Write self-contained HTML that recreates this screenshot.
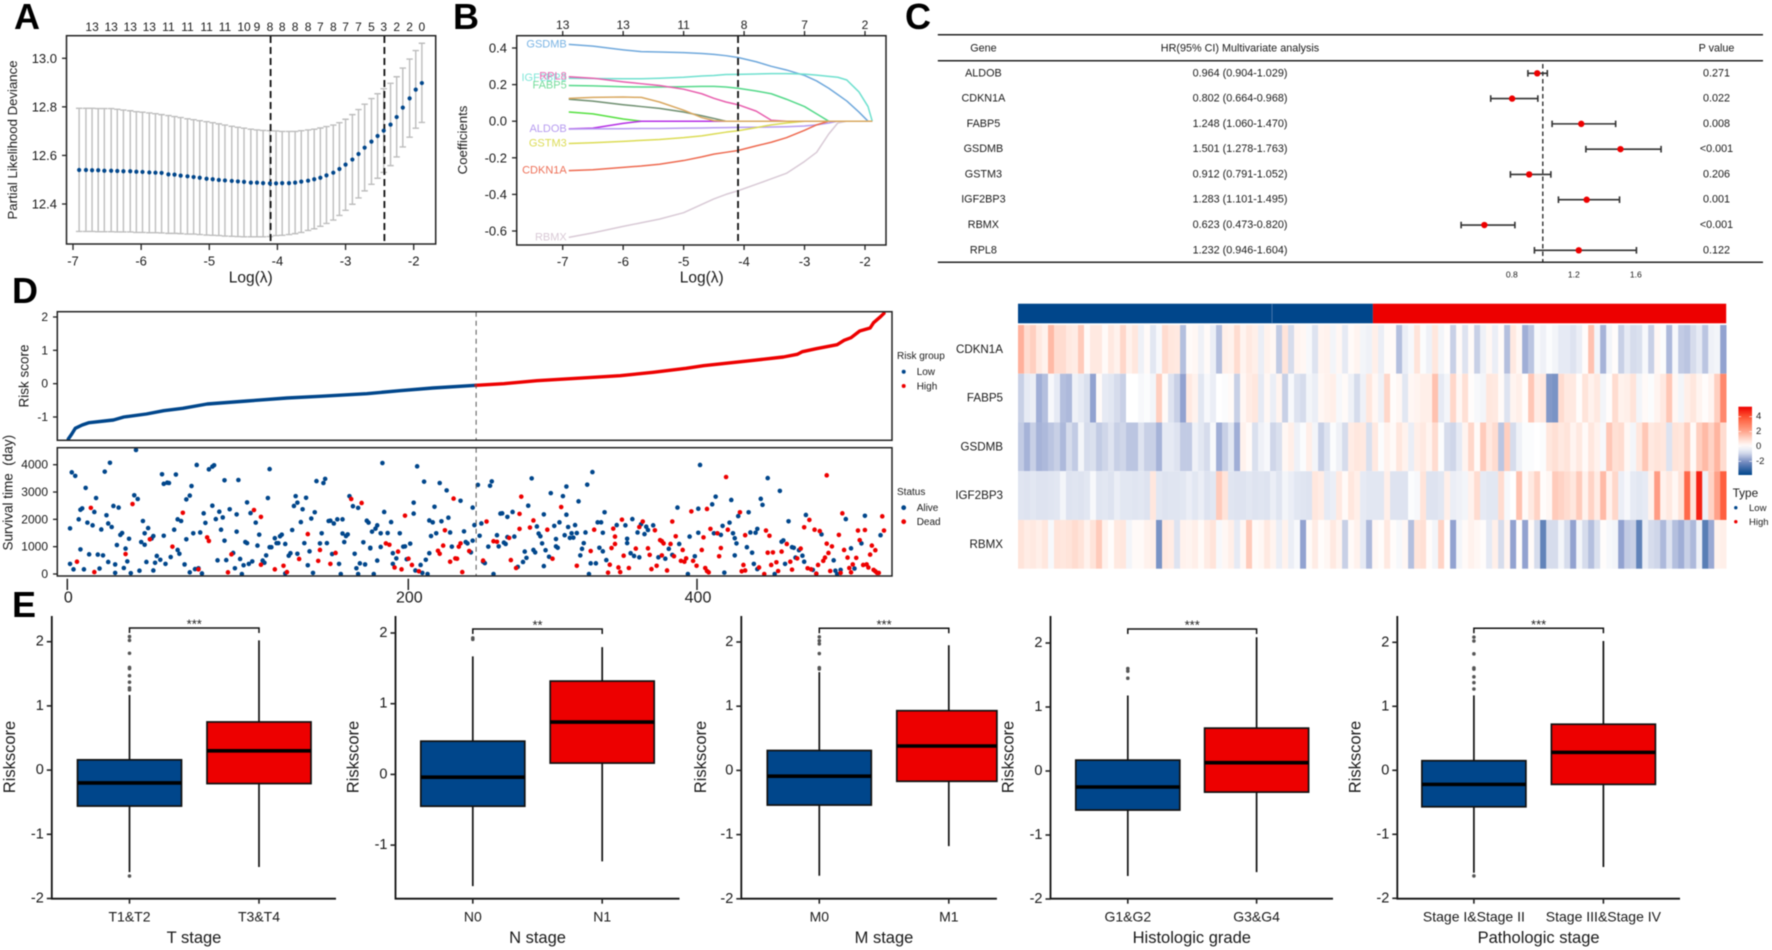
<!DOCTYPE html>
<html lang="en">
<head>
<meta charset="utf-8">
<title>Prognostic risk model figure</title>
<style>
html,body{margin:0;padding:0;background:#fff;width:1772px;height:950px;overflow:hidden}
svg{display:block;filter:blur(0.5px)}
text{font-family:"Liberation Sans",sans-serif;fill:#1a1a1a}
.letter{font-size:36px;font-weight:bold;fill:#000}
.c{text-anchor:middle;dominant-baseline:central}
</style>
</head>
<body>
<svg id="figure" xmlns="http://www.w3.org/2000/svg" width="1772" height="950" viewBox="0 0 1772 950">
<rect width="1772" height="950" fill="#fff"/>
<g id="panelA">
  <text class="letter" x="14" y="29">A</text>
  <text class="c" transform="translate(12.7 140) rotate(-90)" font-size="13.2">Partial Likelihood Deviance</text>
  <text class="c" x="250.7" y="278" font-size="15.5">Log(λ)</text>
</g>
<g id="panelB">
  <text class="letter" x="453" y="29">B</text>
  <text class="c" transform="translate(462.7 140) rotate(-90)" font-size="13.2">Coefficients</text>
  <text class="c" x="701.7" y="278" font-size="15.5">Log(λ)</text>
</g>
<g id="panelC">
  <text class="letter" x="905" y="29">C</text>
  <text class="c" x="983.4" y="48.3" font-size="10.8">Gene</text>
  <text class="c" x="1240" y="48.3" font-size="10.8">HR(95% CI) Multivariate analysis</text>
  <text class="c" x="1716.5" y="48.3" font-size="10.8">P value</text>
</g>
<g id="panelD">
  <text class="letter" x="12" y="303">D</text>
  <text class="c" transform="translate(24 376) rotate(-90)" font-size="13.5">Risk score</text>
  <text class="c" transform="translate(8 492.7) rotate(-90)" font-size="13.5" xml:space="preserve">Survival time  (day)</text>
  <text x="897" y="359" font-size="10">Risk group</text>
  <text x="916.7" y="375" font-size="10">Low</text>
  <text x="916.7" y="389.5" font-size="10">High</text>
  <text x="897" y="495" font-size="10">Status</text>
  <text x="916.7" y="511" font-size="10">Alive</text>
  <text x="916.7" y="525" font-size="10">Dead</text>
  <circle cx="903.7" cy="371.7" r="2" fill="#00468B"/>
  <circle cx="903.7" cy="386" r="2" fill="#ED0000"/>
  <circle cx="903.7" cy="507.7" r="2.4" fill="#00468B"/>
  <circle cx="903.7" cy="521.7" r="2.4" fill="#ED0000"/>
</g>
<g id="heatmap">
  <rect x="1018" y="303.7" width="354.9" height="19.6" fill="#00468B"/>
  <rect x="1372.9" y="303.7" width="353.3" height="19.6" fill="#ED0000"/>
  <rect x="1271.7" y="303.7" width="0.7" height="19.6" fill="#5f8ab8"/>
  <text x="1732.6" y="497" font-size="11.8">Type</text>
  <circle cx="1735.8" cy="507.7" r="1.7" fill="#00468B"/>
  <circle cx="1735.8" cy="521.7" r="1.7" fill="#ED0000"/>
  <text x="1749" y="511" font-size="9.5">Low</text>
  <text x="1749" y="525" font-size="9.5">High</text>
</g>
<g id="panelE">
  <text class="letter" x="12" y="617">E</text>
</g>
</svg>
<script>
/* ---------- Panel A data ---------- */
const cvLogLambda = [-6.91,-6.81,-6.72,-6.63,-6.54,-6.44,-6.35,-6.26,-6.16,-6.07,-5.98,-5.88,-5.79,-5.70,-5.60,-5.51,-5.42,-5.32,-5.23,-5.14,-5.04,-4.95,-4.86,-4.77,-4.67,-4.58,-4.49,-4.39,-4.30,-4.21,-4.11,-4.02,-3.93,-3.83,-3.74,-3.65,-3.55,-3.46,-3.37,-3.28,-3.18,-3.09,-3.00,-2.90,-2.81,-2.72,-2.62,-2.53,-2.44,-2.34,-2.25,-2.16,-2.06,-1.97,-1.88];
const cvMean = [12.540,12.540,12.539,12.539,12.537,12.537,12.536,12.535,12.535,12.533,12.532,12.530,12.529,12.528,12.522,12.521,12.517,12.514,12.511,12.508,12.504,12.502,12.499,12.497,12.495,12.493,12.491,12.488,12.488,12.486,12.485,12.485,12.486,12.486,12.488,12.492,12.496,12.502,12.508,12.518,12.529,12.544,12.562,12.583,12.606,12.632,12.657,12.680,12.702,12.727,12.758,12.797,12.835,12.871,12.898];
const cvUpper = [12.794,12.794,12.794,12.793,12.793,12.793,12.790,12.787,12.784,12.780,12.778,12.775,12.772,12.768,12.764,12.760,12.756,12.751,12.747,12.743,12.739,12.735,12.730,12.725,12.720,12.716,12.712,12.708,12.705,12.703,12.702,12.701,12.699,12.699,12.699,12.702,12.705,12.708,12.713,12.719,12.725,12.735,12.749,12.768,12.789,12.811,12.834,12.854,12.875,12.897,12.924,12.960,12.997,13.032,13.062];
const cvLower = [12.287,12.287,12.287,12.286,12.286,12.286,12.285,12.285,12.285,12.283,12.283,12.282,12.282,12.281,12.279,12.279,12.278,12.276,12.276,12.274,12.272,12.271,12.270,12.268,12.267,12.266,12.265,12.265,12.265,12.265,12.266,12.270,12.271,12.274,12.278,12.283,12.291,12.298,12.308,12.320,12.334,12.353,12.374,12.399,12.425,12.454,12.481,12.506,12.530,12.558,12.594,12.635,12.675,12.712,12.736];
const cvTopCounts = [13,13,13,13,11,11,11,11,10,9,8,8,8,8,7,8,7,7,5,3,2,2,0];
const cvTopCountAt = [-6.72,-6.44,-6.16,-5.88,-5.60,-5.32,-5.04,-4.77,-4.49,-4.30,-4.11,-3.93,-3.74,-3.55,-3.37,-3.18,-3.00,-2.81,-2.62,-2.44,-2.25,-2.06,-1.88];
const cvYTicks = [12.4,12.6,12.8,13.0];
const cvXTicks = [-7,-6,-5,-4,-3,-2];
const cvLambdaLines = [-4.1,-2.43];

/* ---------- Panel B data ---------- */
const pathLambda = [-6.9,-6.5,-6,-5.7,-5.4,-5,-4.7,-4.5,-4.3,-4.1,-3.8,-3.55,-3.3,-3,-2.8,-2.6,-2.45,-2.3,-2.1,-1.95,-1.88];
const coefGSDMB = [.42,.41,.39,.38,.378,.375,.37,.365,.358,.348,.325,.30,.28,.25,.22,.18,.145,.11,.05,0,0];
const coefIGF2BP3 = [.235,.233,.232,.232,.235,.24,.247,.25,.255,.256,.258,.26,.26,.257,.252,.245,.24,.225,.16,.08,0];
const coefRPL8 = [.243,.235,.215,.205,.195,.175,.15,.125,.105,.09,.055,.005,0,0,0,0,0,0,0,0,0];
const coefFABP5 = [.195,.193,.188,.187,.187,.188,.19,.19,.187,.18,.165,.15,.12,.08,.04,0,0,0,0,0,0];
const coefUnnamedOlive = [.12,.11,.09,.08,.07,.05,.03,.015,0,0,0,0,0,0,0,0,0,0,0,0,0];
const coefUnnamedGreen = [.05,.04,.012,0,0,0,0,0,0,0,0,0,0,0,0,0,0,0,0,0,0];
const coefUnnamedPurple = [-.042,-.038,-.012,0,0,0,0,0,0,0,0,0,0,0,0,0,0,0,0,0,0];
const coefALDOB = [-.043,-.042,-.041,-.04,-.04,-.038,-.037,-.036,-.035,-.034,-.033,-.032,-.03,-.026,-.02,-.01,0,0,0,0,0];
const coefGSTM3 = [-.122,-.118,-.11,-.105,-.10,-.09,-.08,-.07,-.06,-.052,-.035,-.02,-.01,0,0,0,0,0,0,0,0];
const coefCDKN1A = [-.27,-.265,-.252,-.245,-.235,-.215,-.195,-.18,-.17,-.16,-.135,-.115,-.09,-.05,-.02,0,0,0,0,0,0];
const coefRBMX = [-.635,-.61,-.575,-.555,-.535,-.50,-.455,-.425,-.40,-.38,-.345,-.315,-.285,-.22,-.17,-.07,-.01,0,0,0,0];
const coefUnnamedTan = [.125,.13,.132,.13,.105,.06,.02,.003,0,0,0,0,0,0,0,0,0,0,0,0,0];
const pathTopCounts = [13,13,11,8,7,2];
const pathXTicks = [-7,-6,-5,-4,-3,-2];
const pathYTicks = [0.4,0.2,0.0,-0.2,-0.4,-0.6];

/* ---------- Panel C data ---------- */
const forestGenes = ["ALDOB","CDKN1A","FABP5","GSDMB","GSTM3","IGF2BP3","RBMX","RPL8"];
const forestHR = [0.964,0.802,1.248,1.501,0.912,1.283,0.623,1.232];
const forestLow = [0.904,0.664,1.060,1.278,0.791,1.101,0.473,0.946];
const forestHigh = [1.029,0.968,1.470,1.763,1.052,1.495,0.820,1.604];
const forestP = ["0.271","0.022","0.008","<0.001","0.206","0.001","<0.001","0.122"];
const forestTicks = [0.8,1.2,1.6];

/* ---------- Panel D data ---------- */
const lowRiskRank = [0,2,4,8,12,26,32,45,55,66,80,103,126,145,172,191,210,235];
const lowRiskScore = [-1.66,-1.51,-1.34,-1.24,-1.17,-1.09,-1.0,-.91,-.81,-.74,-.61,-.52,-.43,-.38,-.30,-.21,-.13,-.05];
const highRiskRank = [235,251,270,299,318,337,356,366,395,412,420,423,431,443,447,451,456,462,464,468,470];
const highRiskScore = [-.05,0,.09,.18,.24,.34,.46,.54,.70,.80,.88,.96,1.05,1.17,1.30,1.38,1.58,1.67,1.83,2.01,2.11];
const riskYTicks = [2,1,0,-1];
const survivalYTicks = [0,1000,2000,3000,4000];
const rankTicks = [0,200,400];
const aliveRank = [1,1,2,3,4,6,7,7,8,9,10,11,12,14,15,16,17,18,19,20,21,22,23,23,24,25,26,27,27,28,29,30,31,32,33,34,35,36,38,39,40,41,42,43,44,44,45,46,48,49,49,50,51,53,54,55,55,56,57,58,59,61,62,63,63,64,65,67,68,68,70,70,71,72,73,74,75,76,77,78,79,81,83,83,84,85,86,87,88,89,90,90,91,93,95,96,97,97,98,99,100,101,102,103,103,104,105,106,108,109,110,112,113,114,115,116,116,117,119,120,121,122,123,125,125,127,128,129,130,131,132,132,134,135,136,137,138,139,140,141,142,143,145,146,147,148,149,150,151,152,153,155,156,157,158,158,159,160,161,162,164,165,166,167,167,168,170,171,172,173,174,174,175,176,177,178,178,180,180,181,182,184,186,187,187,189,191,193,194,195,197,199,199,200,201,203,204,205,206,207,208,208,209,210,211,212,214,215,218,219,220,221,226,228,229,230,232,233,233,234,236,237,238,239,240,242,243,244,245,247,248,249,250,251,252,253,253,256,257,259,262,263,264,265,267,268,269,270,271,272,273,274,274,275,277,278,280,281,281,282,283,285,286,287,287,288,289,290,291,292,293,294,295,296,297,298,299,300,301,302,304,305,306,307,308,308,309,310,316,321,322,322,324,325,326,328,329,330,332,333,334,337,340,344,346,348,351,352,357,358,361,363,363,364,371,372,373,376,377,378,381,382,383,384,384,385,386,391,392,393,394,395,396,397,397,399,400,403,407,410,411,412,413,415,417,418,419,421,423,424,425,429,431,434,441,442,443,445,448,451,453,457,459,468];
const aliveDays = [1670,370,3720,170,3590,2000,900,2350,2400,170,3150,1880,720,1780,2270,2780,710,200,1630,680,3745,2150,1850,440,4070,1720,2490,350,40,1060,2430,1430,1500,220,930,460,1290,30,2880,4540,2745,120,1170,1940,1070,1490,440,1680,1300,1390,130,410,660,520,3650,3300,1400,370,3340,3330,620,1620,3640,880,2000,740,1940,350,1270,2730,60,2870,3220,1490,180,3990,210,1520,20,2220,1870,3830,2500,3930,3980,2010,500,2280,1620,2070,3430,1220,510,2370,770,210,1550,2180,3440,550,0,320,1170,1130,2620,370,2230,460,1880,1040,1440,490,410,680,2780,980,3840,980,1310,1130,1130,1380,1440,20,1100,670,760,1610,2490,2850,740,2610,1900,2370,1130,2790,320,830,2030,40,2260,3400,1120,1490,3330,3480,1130,1940,1950,730,1850,2000,370,0,2000,1480,1170,1390,1450,2850,2480,740,210,2420,0,390,1160,350,1950,1880,960,940,1550,0,1660,1780,490,1490,990,4060,2270,1500,1900,760,370,570,1490,1000,1010,540,1110,2210,2610,130,3940,330,40,3380,520,0,760,1960,1390,1890,2460,1490,3330,1930,3060,2060,1520,1000,2680,1560,1170,1120,790,1220,2430,1790,3260,1400,1850,450,400,1000,3230,3390,0,1420,1010,2210,2220,1150,1100,1350,2090,2270,1370,260,440,820,590,2500,3500,880,790,1740,1480,1380,1120,2180,290,870,630,2960,1760,1280,1010,960,1890,2850,1420,2170,3200,1720,1320,1490,1330,1790,1500,2660,680,920,1130,1520,3270,0,390,3730,390,1890,960,1890,830,1510,2260,510,1790,1780,1130,1290,760,2010,660,1520,610,1820,1460,1730,1610,1780,610,560,920,700,2430,1100,0,1370,650,2390,1510,3990,2550,1490,2830,1430,1760,50,1880,2710,1490,1310,680,1120,2120,980,2260,1520,780,370,1510,180,1650,2750,2530,3510,0,3040,1180,1230,370,1930,980,960,600,870,670,450,2160,150,10,1450,500,120,0,150,2010,940,200,1120,2130,1420];
const deadRank = [5,13,15,33,37,47,60,66,75,80,81,92,94,107,111,111,119,124,126,133,138,144,145,151,154,163,169,183,185,188,190,192,194,196,198,202,213,214,216,217,220,222,223,224,225,226,227,231,239,241,245,247,254,255,258,260,260,261,266,268,276,279,284,293,301,303,311,312,313,314,315,315,317,318,319,320,323,327,329,331,334,335,336,338,339,341,342,342,343,345,347,348,349,350,353,354,355,356,359,360,362,365,366,367,368,368,369,370,374,375,376,379,380,387,388,389,390,390,398,401,402,403,404,405,406,408,409,411,414,416,417,420,422,424,426,427,428,430,431,432,433,435,436,437,437,438,439,440,444,445,446,447,449,450,451,452,454,455,456,458,459,460,461,462,463,464,465,465,466,467,469,470];
const deadDays = [450,2420,70,730,2560,1270,1000,2240,170,1340,1210,60,720,2340,2090,340,170,300,70,550,1460,480,880,370,770,2745,2600,1120,1070,240,820,170,2135,560,330,100,850,740,1040,1600,450,2760,570,560,1000,1120,70,840,490,1920,1200,1180,1320,510,220,1650,2200,2830,1700,1960,1620,560,2450,300,840,1620,50,340,950,1660,1100,1370,240,70,1990,670,220,930,1720,1920,940,700,180,1600,300,1240,1200,680,1120,130,1100,1920,650,1380,480,880,450,570,2290,480,300,880,1340,220,2380,110,60,1650,1490,650,950,3550,1620,2260,100,330,1420,130,240,0,1590,780,1400,330,790,430,110,820,1100,450,160,570,930,1710,210,1980,170,1620,10,330,1570,480,600,1110,3610,770,110,1010,1430,40,2220,880,600,220,60,350,590,1590,1240,330,1610,350,240,710,1040,150,870,100,40,40,2110,1590];

/* ---------- Heatmap data (z-scores, one value per column) ---------- */
const heatGenes = ["CDKN1A","FABP5","GSDMB","IGF2BP3","RBMX"];
const heatCDKN1A = [2.2,1.2,1.5,.8,.5,2,1.2,1.2,.8,.7,1.6,.2,.8,.8,.2,.8,.5,1.3,.5,.9,-.4,.2,-.7,-.2,1.2,.9,.8,-1.5,.2,.3,-.4,.2,-.5,-1.5,.6,.5,1.2,.4,.8,.6,-.5,.5,.3,-1.3,1,-1,.4,.3,-.2,-.8,.4,.5,-.3,.3,-.6,.2,.4,-.3,-.4,.6,-.5,.2,.2,-1.5,-.5,-.2,1,-.1,-.4,.9,-.3,.1,-1.2,.2,-.8,.2,-1.2,-.4,.3,-.5,.2,-1.5,.8,.3,-1.8,-1.4,-.2,-.4,-.1,-.3,-.6,-.6,-.8,-.5,.1,1.8,-.3,-1.7,-.3,.1,-1.2,-.6,-1,-.9,-.2,-1.2,.3,-.1,-1.6,-.2,-1.3,-1.4,-1,-.6,-1.4,-.4,-.3,-2];
const heatFABP5 = [-1.2,-.6,-.5,-1.8,-1.5,-.2,-.6,-1.5,-1.6,-.4,-.6,-.9,-2,.2,-.6,-.7,-1,-1.2,0,0,-.2,-.1,-.3,1.5,.2,-.8,-1.2,-2,.8,.5,-.7,-.2,-.5,0,-.1,.2,-1.2,.3,.7,.9,-.6,.3,-.5,.4,-1.2,-.2,-.8,-1,-.3,-.5,.3,.5,.6,-.2,.2,-.4,-1,-.4,.9,.3,-.4,1.3,.1,.3,-.7,.3,.4,.6,.6,1.8,-.6,-.3,1.3,.3,1.1,.1,-.2,-.3,.9,.8,.2,-.8,.4,.6,.1,1.7,.7,.9,-2.2,-2.3,1.2,.8,.8,.1,1,.5,.8,-.3,.1,1.2,.5,.6,1,-.3,.2,-.1,.4,.8,1.7,.3,-.3,.6,.9,.4,.1,.4,1.5,3];
const heatGSDMB = [-1.3,-1.7,-1.2,-1.7,-1.6,-1.4,-1.2,-1.6,-1,-1.3,-.3,-1,-.9,-1.3,-1.1,-.8,-1.2,-1.1,-1.4,-1.4,-.8,-1.2,-1.2,-1.7,-.6,-.6,-.8,-1.3,-1.3,-.4,-.7,-1,-.2,-1.8,-1.2,-.7,-1.8,.5,.2,-.9,-.4,-.2,-1.1,-.9,.3,.6,-.4,-.1,.6,-.3,-1.2,-.8,-.1,-.4,-1,.7,.9,.8,-.9,.8,-.1,.5,.2,.9,.5,-.5,.6,.8,.4,1.2,-.1,-1,-1.1,-.6,.4,1.3,.2,1.6,.8,1.2,-1.4,1.5,-1,-.4,-.1,-.1,0,-.1,.9,1.1,.8,1,.4,.8,.2,.9,.5,-.2,1.7,1.1,1.2,.3,-.3,.9,1.7,.8,1,.9,-.8,1,.9,1.5,.2,1.5,2,1.4,2.1,1.2];
const heatIGF2BP3 = [-.75,-.8,-.7,-.8,-.8,-.75,-.7,-.3,-.8,-.75,-.8,-.7,-.2,-.75,-.7,-.8,-.5,-.7,-.7,-.75,-.7,-.8,.9,-.7,-.8,-.75,-.75,-.7,-.5,-.7,-.5,-.8,-.7,1.6,1,-.75,-.8,-.8,-.7,-.8,-.75,-.8,-.5,-.75,-.3,-.5,-.7,-.75,-.8,.9,.7,-.6,-.5,.8,.2,.9,.6,-.6,-.7,-.7,-.7,.6,-.8,-.8,-.8,-.1,-.2,1,-.8,-.8,-.7,.6,-.5,-.4,-.3,.5,1.2,-.6,-.7,-.7,1.2,-.2,0,1.8,.2,.8,1.4,.1,.3,1.6,1.4,1.2,.9,1.6,.5,1.4,.7,2,.5,1.3,-.5,-.2,-.6,-.7,-.6,.5,2.6,.5,.8,.3,1,3.6,1,4.8,-.4,1.4,2.5,3.8];
const heatRBMX = [1,.7,.8,.6,.9,-.2,1,.9,1,1.2,1,.5,1,1.6,.5,.1,.8,.9,-.3,.2,.2,.5,.6,-2.3,.8,.7,-.8,.5,.4,.6,.2,.7,1,-.2,.3,.6,-.6,.3,1.6,.2,.3,.8,.4,-.5,.5,-.5,-.2,-2,.2,.7,.1,.3,.8,.4,-1.2,.2,.5,-.6,-1.6,.3,.1,.8,.1,-.2,.3,-1.5,1,1.1,.1,-.3,1.4,.1,-2,-.3,.2,.5,.3,.1,-.6,.6,-1,.4,-2,.1,-2,.2,-1,-2.6,-1,-1,-.3,-1,-2,-.3,-1,-1.5,-.9,.1,-.2,-.3,-2,-1.3,-1.2,-2.6,-.5,-1,-1.1,-1.6,-.8,-1.5,-1.8,-1.2,-1.6,-.4,-2.7,-1.9,.5,.6];
const heatLegendTicks = [4,2,0,-2];

/* ---------- Panel E data ---------- */
const stageTitles = ["T stage","N stage","M stage","Histologic grade","Pathologic stage"];
const stageCategories = [["T1&T2","T3&T4"],["N0","N1"],["M0","M1"],["G1&G2","G3&G4"],["Stage I&Stage II","Stage III&Stage IV"]];
const stageStars = ["***","**","***","***","***"];
const stageQ1 = [[-.56,-.21],[-.45,.16],[-.54,-.17],[-.61,-.33],[-.57,-.22]];
const stageMedian = [[-.2,.3],[-.04,.74],[-.09,.38],[-.25,.13],[-.22,.28]];
const stageQ3 = [[.16,.75],[.47,1.32],[.31,.93],[.17,.67],[.15,.72]];
const stageWhiskerLow = [[-1.59,-1.51],[-1.58,-1.23],[-1.64,-1.18],[-1.64,-1.58],[-1.6,-1.51]];
const stageWhiskerHigh = [[1.17,2.02],[1.67,1.8],[1.53,1.95],[1.18,2.09],[1.17,2.02]];
const stageOutliers = [[2.08,2.02,1.82,1.6,1.58,1.47,1.37,1.28,1.25,-1.65],[1.93,1.91],[2.08,2.02,1.97,1.82,1.6,1.58],[1.6,1.56,1.45],[2.08,2.02,1.82,1.6,1.58,1.46,1.37,1.27,-1.65]];
const stageYTicks = [[2,1,0,-1,-2],[2,1,0,-1],[2,1,0,-1,-2],[2,1,0,-1,-2],[2,1,0,-1,-2]];

/* ---------- Layout (not data) ---------- */
const NS = "http://www.w3.org/2000/svg";
const BLUE = "#00468B", RED = "#ED0000";
function mk(parent, tag, attrs, content) {
  const n = document.createElementNS(NS, tag);
  for (const k in attrs) n.setAttribute(k, attrs[k]);
  if (content !== undefined) n.textContent = content;
  parent.appendChild(n);
  return n;
}
function lin(d0, d1, r0, r1) { return v => r0 + (v - d0) * (r1 - r0) / (d1 - d0); }
function poly(xs, ys, fx, fy) { return xs.map((x, i) => fx(x).toFixed(2) + "," + fy(ys[i]).toFixed(2)).join(" "); }

function frame(parent, x0, y0, x1, y1, name) {
  const r = mk(parent, "rect", {x: x0, y: y0, width: x1 - x0, height: y1 - y0, fill: "none", stroke: "#222", "stroke-width": 1.5});
  
  
}
function tick(parent, x1, y1, x2, y2, w) {
  const l = mk(parent, "line", {x1, y1, x2, y2, stroke: "#222", "stroke-width": w || 1.3});
  
  
}
function label(parent, x, y, txt, size, anchor, fill) {
  const t = mk(parent, "text", {x, y, "font-size": size, "text-anchor": anchor || "middle", "dominant-baseline": "central"}, txt);
  if (fill) t.style.fill = fill;
  
  
  return t;
}

/* ---------- Panel A ---------- */
(function () {
  const g = document.getElementById("panelA");
  const x = lin(-7, -2, 73, 413.7), y = lin(12.4, 13.0, 204, 58.3);
  cvLogLambda.forEach((v, i) => {
    const bar = mk(g, "path", {d: `M${x(v)-3.2} ${y(cvUpper[i])}H${x(v)+3.2}M${x(v)} ${y(cvUpper[i])}V${y(cvLower[i])}M${x(v)-3.2} ${y(cvLower[i])}H${x(v)+3.2}`, fill: "none", stroke: "#bdbdbd", "stroke-width": 1.4});
    
    
  });
  cvLambdaLines.forEach(v => {
    const d = mk(g, "line", {x1: x(v), x2: x(v), y1: 36, y2: 244, stroke: "#111", "stroke-width": 1.8, "stroke-dasharray": "7 4"});
    
    
  });
  cvLogLambda.forEach((v, i) => {
    const c = mk(g, "circle", {cx: x(v), cy: y(cvMean[i]), r: 2.1, fill: BLUE});
    
    
  });
  frame(g, 66.5, 35.7, 435.7, 244, "plot-frame-a");
  cvXTicks.forEach(v => { tick(g, x(v), 244, x(v), 250); label(g, x(v), 261, String(v), 13); });
  cvYTicks.forEach(v => { tick(g, 62, y(v), 66.5, y(v)); label(g, 57, y(v), v.toFixed(1), 13, "end"); });
  cvTopCounts.forEach((c, i) => label(g, x(cvTopCountAt[i]), 27, String(c), 12));
})();

/* ---------- Panel B ---------- */
(function () {
  const g = document.getElementById("panelB");
  const x = lin(-7, -2, 562.7, 865), y = lin(-0.6, 0.4, 231, 48);
  const series = [
    {gene: "GSDMB", vals: coefGSDMB, col: "#6fa8dc", txt: "#7ab4e4"},
    {gene: "FABP5", vals: coefFABP5, col: "#55d98a", txt: "#74dc9a"},
    {gene: "IGF2BP3", vals: coefIGF2BP3, col: "#6fe0cf", txt: "#7fe6d8"},
    {gene: "RPL8", vals: coefRPL8, col: "#e85fae", txt: "#e86db5"},
    {gene: "", vals: coefUnnamedOlive, col: "#6f8f70"},
    {gene: "", vals: coefUnnamedGreen, col: "#55e040"},
    {gene: "", vals: coefUnnamedPurple, col: "#b52fe5"},
    {gene: "ALDOB", vals: coefALDOB, col: "#b79cf0", txt: "#b79cf0"},
    {gene: "GSTM3", vals: coefGSTM3, col: "#dcdc55", txt: "#dcdc55"},
    {gene: "CDKN1A", vals: coefCDKN1A, col: "#ee6a50", txt: "#ee7058"},
    {gene: "RBMX", vals: coefRBMX, col: "#d9cad6", txt: "#d9cad6"},
    {gene: "", vals: coefUnnamedTan, col: "#d9a860"}
  ];
  series.forEach(s => {
    const l = mk(g, "polyline", {points: poly(pathLambda, s.vals, x, y), fill: "none", stroke: s.col, "stroke-width": 1.5, "stroke-linejoin": "round"});
    
    
    if (s.gene) {
      const t = label(g, x(pathLambda[0]) - 2, y(s.vals[0]), s.gene, 11, "end", s.txt);
      
    }
  });
  const d = mk(g, "line", {x1: x(-4.1), x2: x(-4.1), y1: 36, y2: 245, stroke: "#111", "stroke-width": 1.8, "stroke-dasharray": "7 4"});
  
  
  frame(g, 516.7, 35.7, 886, 245, "plot-frame-b");
  pathXTicks.forEach((v, i) => {
    tick(g, x(v), 245, x(v), 250);
    label(g, x(v), 261.7, String(v), 13);
    tick(g, x(v), 31, x(v), 35.7);
    label(g, x(v), 25, String(pathTopCounts[i]), 12);
  });
  pathYTicks.forEach(v => { tick(g, 512, y(v), 516.7, y(v)); label(g, 507, y(v), v.toFixed(1), 13, "end"); });
})();

/* ---------- Panel C ---------- */
(function () {
  const g = document.getElementById("panelC");
  const x = lin(0.8, 1.6, 1511.8, 1635.8);
  const rowY = lin(0, 7, 73.3, 250.3);
  [34.7, 60.7, 262.3].forEach(yy => {
    const r = mk(g, "line", {x1: 937.8, x2: 1763, y1: yy, y2: yy, stroke: "#222", "stroke-width": 1.5});
    
    
  });
  const ref = mk(g, "line", {x1: x(1), x2: x(1), y1: 64, y2: 262, stroke: "#111", "stroke-width": 1.2, "stroke-dasharray": "4.5 3"});
  
  
  forestGenes.forEach((gene, i) => {
    const yy = rowY(i);
    label(g, 983.4, yy, gene, 10.8);
    label(g, 1240, yy, `${forestHR[i].toFixed(3)} (${forestLow[i].toFixed(3)}-${forestHigh[i].toFixed(3)})`, 10.8);
    label(g, 1716.5, yy, forestP[i], 10.8);
    const ci = mk(g, "path", {d: `M${x(forestLow[i])} ${yy-3.3}v6.6M${x(forestLow[i])} ${yy}H${x(forestHigh[i])}M${x(forestHigh[i])} ${yy-3.3}v6.6`, fill: "none", stroke: "#333", "stroke-width": 1.6});
    
    
    const dot = mk(g, "circle", {cx: x(forestHR[i]), cy: yy, r: 3.2, fill: RED});
    
    
  });
  forestTicks.forEach(v => label(g, x(v), 274.7, v.toFixed(1), 8.6));
})();

/* ---------- Panel D ---------- */
(function () {
  const g = document.getElementById("panelD");
  const x = lin(0, 470, 68.3, 884);
  const rankAxis = v => v <= 200 ? lin(0, 200, 67.3, 408.3)(v) : lin(200, 400, 408.3, 697)(v);
  const yRisk = lin(-1, 2, 417, 317), yDays = lin(0, 4000, 574, 464.7);
  const low = mk(g, "polyline", {points: poly(lowRiskRank, lowRiskScore, x, yRisk), fill: "none", stroke: BLUE, "stroke-width": 3.4, "stroke-linejoin": "round", "stroke-linecap": "round"});
  
  
  const high = mk(g, "polyline", {points: poly(highRiskRank, highRiskScore, x, yRisk), fill: "none", stroke: RED, "stroke-width": 3.4, "stroke-linejoin": "round", "stroke-linecap": "round"});
  
  
  aliveRank.forEach((r, i) => {
    if (i >= aliveDays.length) return;
    const c = mk(g, "circle", {cx: x(r), cy: yDays(aliveDays[i]), r: 2.3, fill: BLUE});
    
    
  });
  deadRank.forEach((r, i) => {
    if (i >= deadDays.length) return;
    const c = mk(g, "circle", {cx: x(r), cy: yDays(deadDays[i]), r: 2.3, fill: RED});
    
    
  });
  [[311.7, 440.3], [447.7, 576]].forEach(p => {
    const d = mk(g, "line", {x1: x(235), x2: x(235), y1: p[0], y2: p[1], stroke: "#555", "stroke-width": 1, "stroke-dasharray": "5 4"});
    
    
  });
  frame(g, 57.3, 311.7, 892, 440.3, "plot-frame-risk-score");
  frame(g, 57.3, 447.7, 892, 576, "plot-frame-survival");
  riskYTicks.forEach(v => { tick(g, 53, yRisk(v), 57.3, yRisk(v)); label(g, 48, yRisk(v), String(v), 12, "end"); });
  survivalYTicks.forEach(v => { tick(g, 53, yDays(v), 57.3, yDays(v)); label(g, 48, yDays(v), String(v), 12, "end"); });
  rankTicks.forEach(v => { tick(g, rankAxis(v), 578.7, rankAxis(v), 590, 1.5); label(g, rankAxis(v) + 1, 598, String(v), 16); });
})();

/* ---------- Heatmap ---------- */
(function () {
  const g = document.getElementById("heatmap");
  const stops = [[-3.8,[0,70,139]],[-2,[146,162,208]],[-1,[214,220,236]],[0,[255,255,255]],[1,[255,228,218]],[2,[255,186,166]],[4,[255,85,51]],[5.3,[238,0,0]]];
  const legendStops = [[-3.8,[0,70,139]],[-2,[124,144,196]],[-1,[205,212,232]],[0,[255,255,255]],[1,[255,217,204]],[2,[255,166,142]],[4,[255,85,51]],[5.3,[238,0,0]]];
  function colour(v, table) {
    const t0 = table || stops;
    v = Math.max(-3.8, Math.min(5.3, v));
    for (let i = 1; i < t0.length; i++) {
      if (v <= t0[i][0]) {
        const t = (v - t0[i-1][0]) / (t0[i][0] - t0[i-1][0]);
        const c = t0[i-1][1].map((a, k) => Math.round(a + (t0[i][1][k] - a) * t));
        return `rgb(${c[0]},${c[1]},${c[2]})`;
      }
    }
    return "rgb(238,0,0)";
  }
  const rowsData = [heatCDKN1A, heatFABP5, heatGSDMB, heatIGF2BP3, heatRBMX];
  const x0 = 1018, x1 = 1726.2, rowTop = lin(0, 5, 325, 568.7);
  rowsData.forEach((row, r) => {
    const w = (x1 - x0) / row.length, top = rowTop(r), h = rowTop(r + 1) - top;
    row.forEach((v, i) => {
      const c = mk(g, "rect", {x: (x0 + i * w).toFixed(2), y: top.toFixed(2), width: (w + 0.3).toFixed(2), height: h.toFixed(2), fill: colour(v)});
      
      
    });
    const t = label(g, 1003, top + h / 2, heatGenes[r], 11.6, "end");
    
  });
  const defs = mk(g, "defs", {});
  const grad = mk(defs, "linearGradient", {id: "heatGrad", x1: 0, y1: 0, x2: 0, y2: 1});
  const yLeg = lin(-2, 4, 461.3, 416.7);
  const top = 406.7, bot = 475;
  const valAt = yy => -2 + (461.3 - yy) * 6 / 44.6;
  for (let s = 0; s <= 16; s++) {
    mk(grad, "stop", {offset: s / 16, "stop-color": colour(valAt(top + (bot - top) * s / 16), legendStops)});
  }
  const bar = mk(g, "rect", {x: 1738.4, y: top, width: 13.6, height: bot - top, fill: "url(#heatGrad)"});
  
  
  heatLegendTicks.forEach(v => {
    const m = mk(g, "path", {d: `M1738.4 ${yLeg(v)}h2.7M1749.3 ${yLeg(v)}h2.7`, stroke: "#fff", "stroke-width": 0.7});
    
    
    label(g, 1756, yLeg(v), String(v), 9.5, "start");
  });
})();

/* ---------- Panel E ---------- */
(function () {
  const g = document.getElementById("panelE");
  const layout = [
    {axis: 51.8, end: 336, c1: 129.5, c2: 259, y2: 641.7, unit: 64.2, bracket: 628, titleX: 194, ylabelX: 10},
    {axis: 395.5, end: 679.5, c1: 472.8, c2: 602.2, y2: 633, unit: 70.7, bracket: 629, titleX: 537.5, ylabelX: 353.6},
    {axis: 741.3, end: 996.9, c1: 819.3, c2: 948.8, y2: 642, unit: 64.2, bracket: 628.3, titleX: 884, ylabelX: 701},
    {axis: 1050.5, end: 1333, c1: 1127.8, c2: 1256.6, y2: 643, unit: 64, bracket: 629, titleX: 1191.8, ylabelX: 1008.7},
    {axis: 1397.3, end: 1680, c1: 1473.9, c2: 1603.4, y2: 642.3, unit: 64, bracket: 628.3, titleX: 1538.6, ylabelX: 1355.5}
  ];
  const AX_Y = 898.7, TOP = 616, BW = 104;
  stageTitles.forEach((title, p) => {
    const L = layout[p];
    const y = v => L.y2 + (2 - v) * L.unit;
    [L.c1, L.c2].forEach((cx, k) => {
      const whisk = mk(g, "line", {x1: cx, x2: cx, y1: y(stageWhiskerHigh[p][k]), y2: y(stageWhiskerLow[p][k]), stroke: "#111", "stroke-width": 1.7});
      
      
      const left = cx - BW / 2, right = Math.min(cx + BW / 2, L.end);
      const box = mk(g, "rect", {x: left, y: y(stageQ3[p][k]), width: right - left, height: y(stageQ1[p][k]) - y(stageQ3[p][k]), fill: k ? RED : BLUE, stroke: "#111", "stroke-width": 1.7});
      
      
      const med = mk(g, "line", {x1: left, x2: right, y1: y(stageMedian[p][k]), y2: y(stageMedian[p][k]), stroke: "#000", "stroke-width": 3.6});
      
      
    });
    stageOutliers[p].forEach(v => {
      const o = mk(g, "circle", {cx: L.c1, cy: y(v), r: 1.8, fill: "#555"});
      
      
    });
    const br = mk(g, "path", {d: `M${L.c1} ${L.bracket+5}V${L.bracket}H${L.c2}V${L.bracket+5}`, fill: "none", stroke: "#111", "stroke-width": 1.5});
    
    
    label(g, (L.c1 + L.c2) / 2, L.bracket - 4, stageStars[p], 13);
    const axes = mk(g, "path", {d: `M${L.axis} ${TOP}V${AX_Y}H${L.end}`, fill: "none", stroke: "#111", "stroke-width": 1.8});
    
    
    stageYTicks[p].forEach(v => {
      tick(g, L.axis - 5, y(v), L.axis, y(v), 1.6);
      label(g, L.axis - 8, y(v), String(v), 14.5, "end");
    });
    [L.c1, L.c2].forEach((cx, k) => {
      tick(g, cx, AX_Y, cx, AX_Y + 5, 1.6);
      label(g, cx, 916.7, stageCategories[p][k], 14);
    });
    label(g, L.titleX, 938, title, 16.5);
    const yl = label(g, 0, 0, "Riskscore", 16.5);
    yl.setAttribute('transform', `translate(${L.ylabelX} 757) rotate(-90)`);
    
  });
})();
</script>
</body>
</html>
